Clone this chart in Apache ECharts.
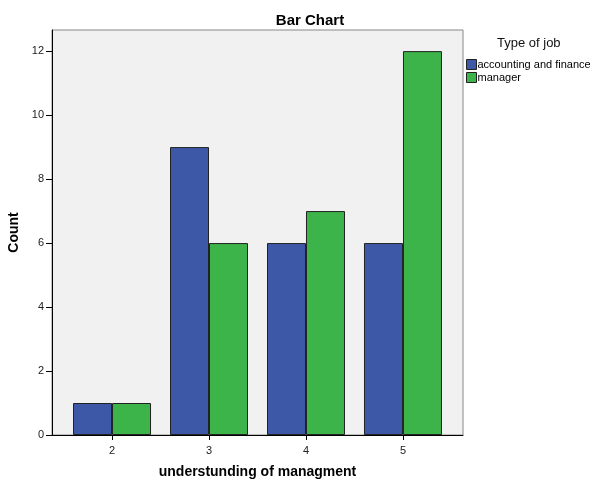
<!DOCTYPE html>
<html>
<head>
    <meta charset="utf-8">
    <title>Bar Chart</title>
    <style type="text/css">
        html,body{
            margin: 0;
            width: 100%;
            height: 100%;
            background: #fff;
        }
        #main{
            width: 590px;
            height: 482px;
        }
    </style>
</head>
<body>
    <div id="main"></div>
    <script src="https://cdn.jsdelivr.net/npm/echarts@6/dist/echarts.min.js"></script>
    <script>
        // 数据
        var categories = [2, 3, 4, 5];
        var accounting = [1, 9, 6, 6];
        var manager = [1, 6, 7, 12];
        var yTicks = [0, 2, 4, 6, 8, 10, 12];

        var font = 'Liberation Sans, Arial, sans-serif';
        var myChart = echarts.init(document.getElementById('main'));

        function pairs(vals) {
            return categories.map(function (c, i) { return [c, vals[i]]; });
        }

        var option = {
            animation: false,
            textStyle: { fontFamily: font },
            title: {
                text: 'Bar Chart',
                left: 305,
                top: 8,
                textAlign: 'center',
                textStyle: { fontSize: 15, fontWeight: 'bold', color: '#000', fontFamily: font }
            },
            legend: {
                orient: 'vertical',
                left: 466,
                top: 59,
                padding: 0,
                icon: 'rect',
                itemWidth: 10,
                itemHeight: 10,
                itemGap: 2,
                itemStyle: { borderColor: '#222', borderWidth: 1 },
                textStyle: { fontSize: 11, color: '#000', padding: [0, 0, 0, -4] },
                data: ['accounting and finance', 'manager']
            },
            graphic: [{
                type: 'text',
                left: 497,
                top: 37,
                style: { text: 'Type of job', fontSize: 13, fill: '#111', fontFamily: font }
            }],
            grid: {
                left: 52,
                right: 127,
                top: 30,
                bottom: 47,
                outerBoundsMode: 'none',
                containLabel: false,
                show: true,
                backgroundColor: '#f0f1f0',
                borderColor: '#888',
                borderWidth: 1
            },
            xAxis: {
                type: 'value',
                min: 1.381,
                max: 5.619,
                name: 'understunding of managment',
                nameLocation: 'middle',
                nameGap: 30,
                nameTextStyle: { fontSize: 14, fontWeight: 'bold', color: '#000' },
                axisLine: { show: true, onZero: false, lineStyle: { color: '#000' } },
                axisTick: { show: true, length: 5, customValues: categories, lineStyle: { color: '#000' } },
                axisLabel: { customValues: categories, fontSize: 11, color: '#222', margin: 10 },
                splitLine: { show: false }
            },
            yAxis: {
                type: 'value',
                min: 0,
                max: 12.66,
                name: 'Count',
                nameLocation: 'middle',
                nameGap: 26,
                nameTextStyle: { fontSize: 14, fontWeight: 'bold', color: '#000' },
                axisLine: { show: true, lineStyle: { color: '#000' } },
                axisTick: { show: true, length: 6, customValues: yTicks, lineStyle: { color: '#000' } },
                axisLabel: { customValues: yTicks, fontSize: 11, color: '#222', margin: 8 },
                splitLine: { show: false }
            },
            series: [
                {
                    name: 'accounting and finance',
                    type: 'bar',
                    barWidth: 39,
                    barGap: '0%',
                    itemStyle: { color: '#3e58a8', borderColor: '#222', borderWidth: 1 },
                    data: pairs(accounting)
                },
                {
                    name: 'manager',
                    type: 'bar',
                    barWidth: 39,
                    barGap: '0%',
                    itemStyle: { color: '#3cb44a', borderColor: '#222', borderWidth: 1 },
                    data: pairs(manager)
                }
            ]
        };

        myChart.setOption(option);
    </script>
</body>
</html>
